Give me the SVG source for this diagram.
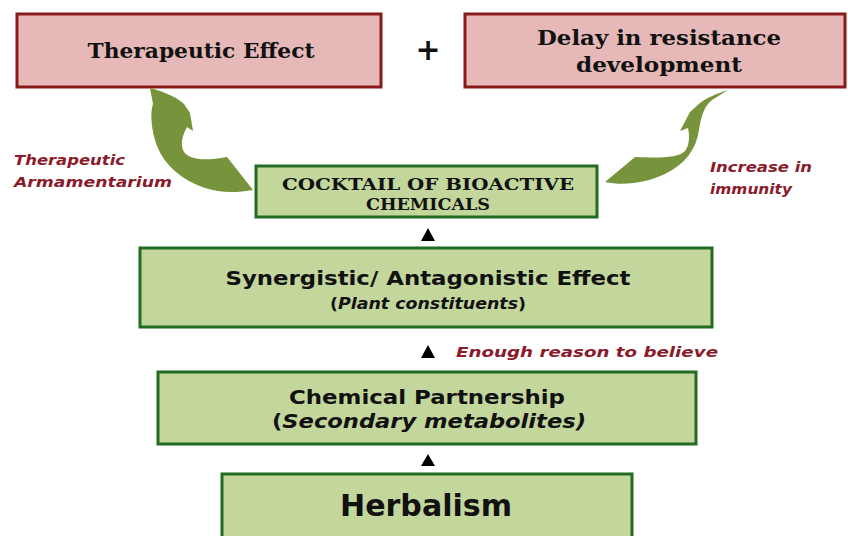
<svg xmlns="http://www.w3.org/2000/svg" width="848" height="536" viewBox="0 0 848 536">
<style>
.pink{fill:#e6b9b8;stroke:#8a1a1a;stroke-width:3}
.green{fill:#c3d69b;stroke:#226b22;stroke-width:3}
.ser{font-family:"DejaVu Serif","Liberation Serif",serif;font-weight:bold;fill:#111;text-anchor:middle}
.sans{font-family:"DejaVu Sans","Liberation Sans",sans-serif;font-weight:bold;fill:#111;text-anchor:middle}
.lbl{font-family:"DejaVu Sans","Liberation Sans",sans-serif;font-weight:bold;font-style:italic;fill:#8b1a2b;font-size:14px}
.curve{fill:#77933c}
.tri{fill:#000}
</style>
<rect width="848" height="536" fill="#ffffff"/>

<g id="therapeutic-effect">
<rect class="pink" x="17" y="14" width="364" height="73"/>
<text class="ser" x="201" y="58" font-size="21" textLength="227" lengthAdjust="spacingAndGlyphs">Therapeutic Effect</text>
</g>

<g id="plus">
<text class="sans" x="428" y="60" font-size="30">+</text>
</g>

<g id="delay-resistance">
<rect class="pink" x="465" y="14" width="380" height="73"/>
<text class="ser" x="659" y="45" font-size="21" textLength="244" lengthAdjust="spacingAndGlyphs">Delay in resistance</text>
<text class="ser" x="659" y="72" font-size="21" textLength="166" lengthAdjust="spacingAndGlyphs">development</text>
</g>

<g id="cocktail">
<rect class="green" x="256" y="166" width="341" height="51"/>
<text class="ser" x="428" y="190" font-size="16" textLength="292" lengthAdjust="spacingAndGlyphs">COCKTAIL OF BIOACTIVE</text>
<text class="ser" x="428" y="210" font-size="16" textLength="124" lengthAdjust="spacingAndGlyphs">CHEMICALS</text>
</g>

<g id="synergistic">
<rect class="green" x="140" y="248" width="572" height="79"/>
<text class="sans" x="428" y="285" font-size="19" textLength="405" lengthAdjust="spacingAndGlyphs">Synergistic/ Antagonistic Effect</text>
<text class="sans" x="428" y="309" font-size="16" textLength="196" lengthAdjust="spacingAndGlyphs">(<tspan font-style="italic">Plant constituents</tspan>)</text>
</g>

<g id="chemical-partnership">
<rect class="green" x="158" y="372" width="538" height="72"/>
<text class="sans" x="427" y="404" font-size="20" textLength="276" lengthAdjust="spacingAndGlyphs">Chemical Partnership</text>
<text class="sans" x="429" y="428" font-size="20" textLength="314" lengthAdjust="spacingAndGlyphs">(<tspan font-style="italic">Secondary metabolites)</tspan></text>
</g>

<g id="herbalism">
<rect class="green" x="222" y="474" width="410" height="70"/>
<text class="sans" x="426" y="516" font-size="31" textLength="172" lengthAdjust="spacingAndGlyphs">Herbalism</text>
</g>

<g id="labels">
<text class="lbl" x="14" y="165" textLength="111" lengthAdjust="spacingAndGlyphs">Therapeutic</text>
<text class="lbl" x="14" y="187" textLength="158" lengthAdjust="spacingAndGlyphs">Armamentarium</text>
<text class="lbl" x="710" y="172" textLength="102" lengthAdjust="spacingAndGlyphs">Increase in</text>
<text class="lbl" x="710" y="194" textLength="82" lengthAdjust="spacingAndGlyphs">immunity</text>
<text class="lbl" x="456" y="357" font-size="15" textLength="262" lengthAdjust="spacingAndGlyphs">Enough reason to believe</text>
</g>

<g id="connectors">
<path class="curve" d="M150 88 C165 92 178 98 184 104 L190 113 L193 131 L187 127 C182 136 180 145 184 152 C190 160 205 161 227 157 L253 190 C236 193 220 193 205 188 C182 180 165 166 157 146 C151 130 150 112 153 104 Z"/>
<path class="curve" d="M728 90 C716 94 706 98 700 103 L690 112 L680 131 L688 128 C690 137 689 146 685 151 C678 158 660 158 635 157 L605 182 C625 186 645 183 665 174 C685 164 696 150 699 130 C701 117 704 106 712 100 Z"/>
<polygon class="tri" points="428,228 435,241 421,241"/>
<polygon class="tri" points="428,345 435,358 421,358"/>
<polygon class="tri" points="428,454 435,466 421,466"/>
</g>
</svg>
